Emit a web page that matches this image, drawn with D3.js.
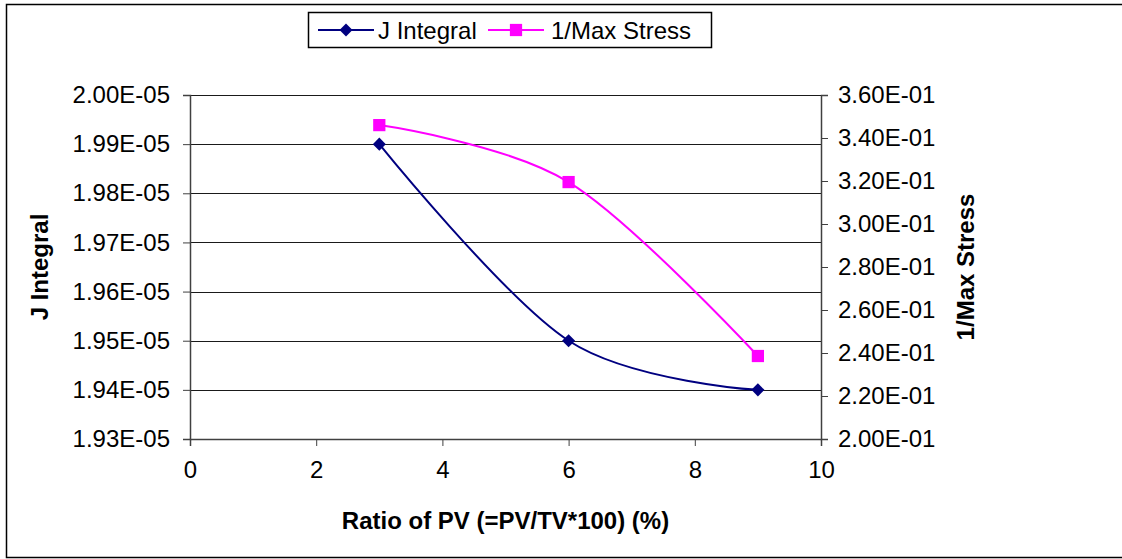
<!DOCTYPE html>
<html>
<head>
<meta charset="utf-8">
<script src="https://cdn.jsdelivr.net/npm/d3@7"></script>
<style>
  body { margin: 0; background: #fff; }
  svg text { font-family: "Liberation Sans", Arial, sans-serif; fill: #000; }
</style>
</head>
<body>
<div id="chart"></div>
<script>
var ratio = [3, 6, 9];
var jIntegral = [1.99e-5, 1.95e-5, 1.94e-5];
var invMaxStress = [0.346, 0.3195, 0.2386];
var xTicks = [0, 2, 4, 6, 8, 10];
var leftTicks = [1.93e-5, 1.94e-5, 1.95e-5, 1.96e-5, 1.97e-5, 1.98e-5, 1.99e-5, 2.00e-5];
var rightTicks = [0.20, 0.22, 0.24, 0.26, 0.28, 0.30, 0.32, 0.34, 0.36];

var W = 1122, H = 559;
var margin = { top: 95, right: 301, bottom: 120, left: 190 };
var width = W - margin.left - margin.right,
    height = H - margin.top - margin.bottom;

var svg = d3.select("#chart").append("svg")
  .attr("width", W)
  .attr("height", H);

// outer border
svg.append("rect")
  .attr("x", 6.5).attr("y", 4.5)
  .attr("width", 1130).attr("height", 553)
  .attr("fill", "none").attr("stroke", "#000").attr("stroke-width", 1.5);

var g = svg.append("g")
  .attr("transform", "translate(" + margin.left + "," + margin.top + ")");

var x = d3.scaleLinear().domain([0, 10]).range([0, width]);
var yL = d3.scaleLinear().domain([1.93e-5, 2.00e-5]).range([height, 0]);
var yR = d3.scaleLinear().domain([0.20, 0.36]).range([height, 0]);

// gridlines
g.selectAll(".grid")
  .data(leftTicks.slice(1))
  .enter().append("line")
  .attr("x1", 0).attr("x2", width)
  .attr("y1", function (d) { return Math.round(yL(d)) + 0.5; })
  .attr("y2", function (d) { return Math.round(yL(d)) + 0.5; })
  .attr("stroke", "#1a1a1a").attr("stroke-width", 1);

function styleAxis(sel) {
  sel.select(".domain").attr("stroke", "#404040").attr("stroke-width", 1.5);
  sel.selectAll(".tick line").attr("stroke", "#404040").attr("stroke-width", 1);
  sel.selectAll("text").style("font-size", "24px");
}

// 1.99E-05 style labels
var fmtE = function (d) {
  return d.toExponential(2).toUpperCase().replace("E-", "E-0");
};

var xAxis = g.append("g")
  .attr("transform", "translate(0," + height + ")")
  .call(d3.axisBottom(x).tickValues(xTicks).tickSizeOuter(0).tickSize(7).tickPadding(15));
styleAxis(xAxis);

var yAxisL = g.append("g")
  .call(d3.axisLeft(yL).tickValues(leftTicks).tickSizeOuter(0).tickSize(7).tickPadding(13)
    .tickFormat(fmtE));
styleAxis(yAxisL);

var yAxisR = g.append("g")
  .attr("transform", "translate(" + width + ",0)")
  .call(d3.axisRight(yR).tickValues(rightTicks).tickSizeOuter(0).tickSize(7).tickPadding(10)
    .tickFormat(fmtE));
styleAxis(yAxisR);

// axis titles
svg.append("text")
  .attr("x", (margin.left + margin.left + width) / 2)
  .attr("y", 529)
  .attr("text-anchor", "middle")
  .style("font-size", "24px").style("font-weight", "bold")
  .text("Ratio of PV (=PV/TV*100) (%)");

svg.append("text")
  .attr("transform", "translate(48,267) rotate(-90)")
  .attr("text-anchor", "middle")
  .style("font-size", "24px").style("font-weight", "bold")
  .text("J Integral");

svg.append("text")
  .attr("transform", "translate(974,267) rotate(-90)")
  .attr("text-anchor", "middle")
  .style("font-size", "24px").style("font-weight", "bold")
  .text("1/Max Stress");

// smoothed lines
var curve = d3.curveCardinal.tension(0);
var jData = ratio.map(function (r, i) { return { x: r, y: jIntegral[i] }; });
var sData = ratio.map(function (r, i) { return { x: r, y: invMaxStress[i] }; });

g.append("path")
  .datum(jData)
  .attr("fill", "none").attr("stroke", "#000080").attr("stroke-width", 2)
  .attr("d", d3.line().curve(curve)
    .x(function (d) { return x(d.x); })
    .y(function (d) { return yL(d.y); }));

g.append("path")
  .datum(sData)
  .attr("fill", "none").attr("stroke", "#ff00ff").attr("stroke-width", 2)
  .attr("d", d3.line().curve(curve)
    .x(function (d) { return x(d.x); })
    .y(function (d) { return yR(d.y); }));

var diamond = d3.symbol().type(d3.symbolSquare).size(85);
var square = d3.symbol().type(d3.symbolSquare).size(150);

g.selectAll(".jm").data(jData).enter().append("path")
  .attr("transform", function (d) { return "translate(" + x(d.x) + "," + yL(d.y) + ") rotate(45)"; })
  .attr("d", diamond)
  .attr("fill", "#000080");

g.selectAll(".sm").data(sData).enter().append("path")
  .attr("transform", function (d) { return "translate(" + x(d.x) + "," + yR(d.y) + ")"; })
  .attr("d", square)
  .attr("fill", "#ff00ff");

// legend
var leg = svg.append("g");
leg.append("rect")
  .attr("x", 308.5).attr("y", 12.5).attr("width", 403).attr("height", 35)
  .attr("fill", "#fff").attr("stroke", "#000").attr("stroke-width", 1.5);

var legItems = [
  { name: "J Integral", color: "#000080", x0: 318, tx: 378, sym: "d" },
  { name: "1/Max Stress", color: "#ff00ff", x0: 488, tx: 551, sym: "s" }
];
legItems.forEach(function (it) {
  leg.append("line")
    .attr("x1", it.x0).attr("x2", it.x0 + 56)
    .attr("y1", 30).attr("y2", 30)
    .attr("stroke", it.color).attr("stroke-width", 2);
  leg.append("path")
    .attr("transform", "translate(" + (it.x0 + 28) + ",30)" + (it.sym === "d" ? " rotate(45)" : ""))
    .attr("d", it.sym === "d" ? diamond() : square())
    .attr("fill", it.color);
  leg.append("text")
    .attr("x", it.tx).attr("y", 38.5)
    .style("font-size", "24px")
    .text(it.name);
});
</script>
</body>
</html>
